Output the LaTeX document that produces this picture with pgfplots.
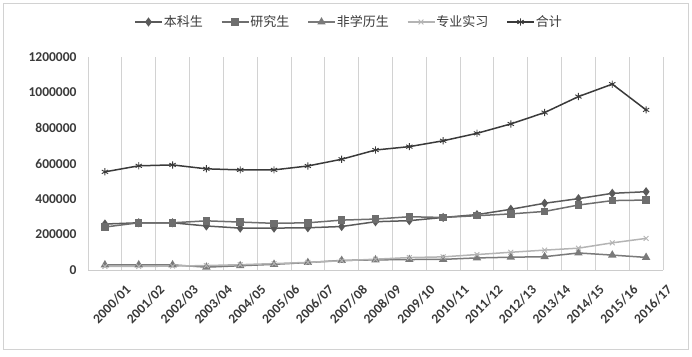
\documentclass[border=0pt]{standalone}
\usepackage{pgfplots}
\pgfplotsset{compat=1.18}
\usepackage{fontspec}
\setmainfont{Carlito}
\newfontfamily\cjk{Noto Sans CJK SC}
\definecolor{cA}{HTML}{5A5A5A}
\definecolor{cB}{HTML}{6E6E6E}
\definecolor{cC}{HTML}{7A7A7A}
\definecolor{cD}{HTML}{B4B4B4}
\definecolor{cE}{HTML}{3A3A3A}
\definecolor{tick}{HTML}{3A3A3A}
\begin{document}
\begin{tikzpicture}
\begin{axis}[
  at={(88pt,86pt)}, anchor=south west,
  scale only axis, width=575pt, height=213pt,
  xmin=-0.5, xmax=16.5, ymin=0, ymax=1200000,
  axis x line=bottom, axis y line=left,
  y axis line style={draw=none},
  x axis line style={draw=gray!40, -},
  xtick={0,...,16},
  xticklabels={2000/01,2001/02,2002/03,2003/04,2004/05,2005/06,2006/07,2007/08,2008/09,2009/10,2010/11,2011/12,2012/13,2013/14,2014/15,2015/16,2016/17},
  minor xtick={-0.5,0.5,...,16.5},
  xminorgrids, minor grid style={gray!35, line width=0.8pt},
  major tick length=0, minor tick length=0,
  ytick={0,200000,...,1200000},
  scaled y ticks=false,
  /pgf/number format/.cd, fixed, 1000 sep={}, assume math mode=true, /pgfplots/.cd,
  yticklabel style={font=\bfseries\fontsize{13.5}{14}\selectfont, text=tick, xshift=-8pt},
  xticklabel style={font=\bfseries\fontsize{13.5}{15}\selectfont, text=tick, rotate=45, anchor=north east, inner sep=1pt, xshift=5pt, yshift=-23pt},
  legend columns=5,
  legend style={at={(0.5,1)}, anchor=center, xshift=-27pt, yshift=35pt, draw=none,
    font=\cjk\fontsize{13}{14}\selectfont, text=tick, nodes={inner xsep=1pt},
    /tikz/every even column/.append style={column sep=17pt}},
  legend cell align=left,
  legend image code/.code={\draw[mark repeat=2, mark phase=2] plot coordinates {(0pt,0pt)(13.5pt,0pt)(27pt,0pt)};},
  every axis plot/.append style={line width=1.5pt},
]
\addplot[color=cA, mark=diamond*, mark size=3.4pt] coordinates {
(0,259000)(1,266000)(2,266000)(3,248000)(4,236000)(5,236000)(6,238000)(7,245000)(8,272000)(9,278000)(10,296000)(11,312000)(12,342000)(13,376000)(14,402000)(15,432000)(16,441000)};
\addlegendentry{本科生}
\addplot[color=cB, mark=square*, mark size=3pt] coordinates {
(0,242000)(1,266000)(2,266000)(3,277000)(4,270000)(5,263000)(6,266000)(7,281000)(8,287000)(9,300000)(10,296000)(11,306000)(12,316000)(13,330000)(14,366000)(15,391000)(16,394000)};
\addlegendentry{研究生}
\addplot[color=cC, mark=triangle*, mark size=3.4pt] coordinates {
(0,29000)(1,29000)(2,29000)(3,16000)(4,24000)(5,32000)(6,42000)(7,54000)(8,57000)(9,59000)(10,60000)(11,68000)(12,72000)(13,75000)(14,96000)(15,84000)(16,71000)};
\addlegendentry{非学历生}
\addplot[color=cD, mark=x, mark size=3.4pt, mark options={line width=0.9pt}] coordinates {
(0,20000)(1,20000)(2,22000)(3,25000)(4,30000)(5,36000)(6,43000)(7,52000)(8,61000)(9,70000)(10,74000)(11,87000)(12,100000)(13,112000)(14,123000)(15,153000)(16,178000)};
\addlegendentry{专业实习}
\addplot[color=cE, mark=asterisk, mark size=3.6pt, mark options={line width=0.9pt}] coordinates {
(0,553000)(1,587000)(2,592000)(3,570000)(4,564000)(5,564000)(6,586000)(7,624000)(8,676000)(9,695000)(10,728000)(11,770000)(12,823000)(13,887000)(14,977000)(15,1047000)(16,902000)};
\addlegendentry{合计}
\end{axis}
\draw[gray!35, line width=0.8pt] (3pt,7pt) rectangle (688pt,353pt);
\pgfresetboundingbox
\path[use as bounding box] (0,0) rectangle (692pt,356pt);
\end{tikzpicture}
\end{document}
